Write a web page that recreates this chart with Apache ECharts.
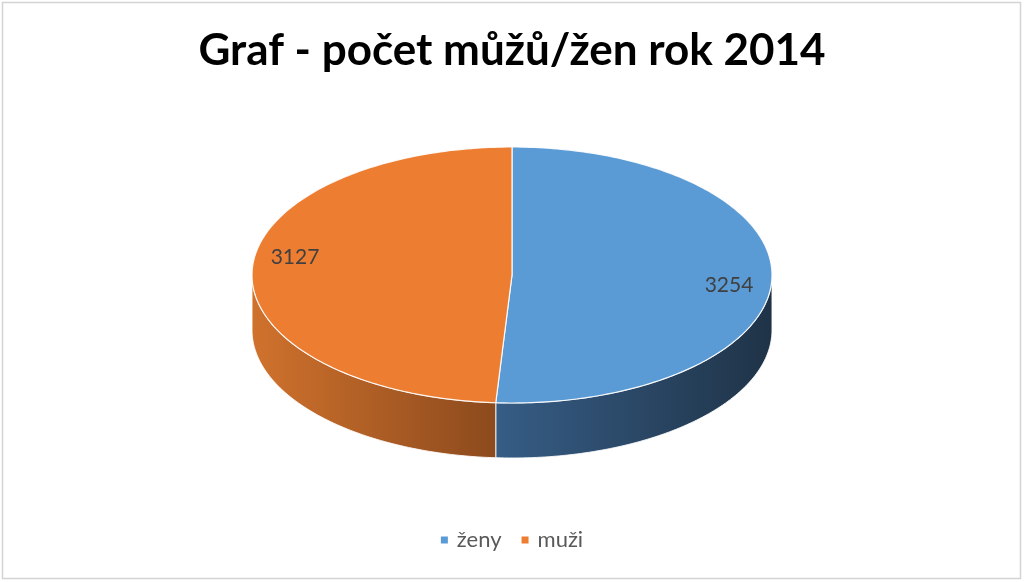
<!DOCTYPE html>
<html>
<head>
<meta charset="utf-8">
<script src="https://cdn.jsdelivr.net/npm/echarts@6/dist/echarts.min.js"></script>
<style>
html,body{margin:0;padding:0;background:#fff;}
#chart{width:1024px;height:582px;}
</style>
</head>
<body>
<div id="chart"></div>
<script>
const titleText = 'Graf - počet můžů/žen rok 2014';
const categories = ['ženy', 'muži'];
const values = [3254, 3127];
const topColors = ['#5B9BD5', '#ED7D31'];
const sideStops = [['#365D86', '#1F3347'], ['#D0722D', '#8C4A1D']];

const total = values.reduce((a, b) => a + b, 0);
const geo = { cx: 512, cy: 275, rx: 260, ry: 128, depth: 55 };
const labelShift = [7, -14];

function pt(theta, dy) {
  return [geo.cx + geo.rx * Math.sin(theta), geo.cy - geo.ry * Math.cos(theta) + (dy || 0)];
}
function arc(a, b, dy) {
  const pts = [];
  const n = Math.max(2, Math.ceil(Math.abs(b - a) / (Math.PI / 180)));
  for (let k = 0; k <= n; k++) pts.push(pt(a + (b - a) * k / n, dy));
  return pts;
}

function renderItem(params, api) {
  const i = params.seriesIndex;
  const v = api.value(0);
  let before = 0;
  for (let j = 0; j < i; j++) before += values[j];
  const a = before / total * Math.PI * 2;
  const b = a + v / total * Math.PI * 2;
  const children = [];
  const wa = Math.max(a, Math.PI / 2), wb = Math.min(b, Math.PI * 1.5);
  if (wb > wa) {
    const top = arc(wa, wb, 0);
    const bottom = arc(wb, wa, geo.depth);
    children.push({
      type: 'polygon',
      shape: { points: top.concat(bottom) },
      style: {
        fill: new echarts.graphic.LinearGradient(0, 0, 1, 0, [
          { offset: 0, color: sideStops[i][0] },
          { offset: 1, color: sideStops[i][1] }
        ]),
        stroke: 'rgba(255,255,255,0.85)',
        lineWidth: 1
      }
    });
  }
  children.push({
    type: 'polygon',
    shape: { points: [[geo.cx, geo.cy]].concat(arc(a, b, 0)) },
    style: { fill: topColors[i], stroke: 'rgba(255,255,255,0.9)', lineWidth: 1.2 }
  });
  const mid = (a + b) / 2;
  const lp = [geo.cx + geo.rx * 0.835 * Math.sin(mid), geo.cy - geo.ry * 0.835 * Math.cos(mid) + labelShift[i]];
  children.push({
    type: 'text',
    x: lp[0], y: lp[1],
    style: {
      text: String(v),
      fill: '#404040',
      font: '21px Lato',
      align: 'center',
      verticalAlign: 'middle'
    }
  });
  return { type: 'group', children: children };
}

const chart = echarts.init(document.getElementById('chart'));
chart.setOption({
  animation: false,
  color: topColors,
  title: {
    text: titleText,
    left: 'center',
    top: 24,
    textStyle: { fontFamily: 'Lato', fontWeight: 'bold', fontSize: 44, color: '#000' }
  },
  legend: {
    data: categories,
    bottom: 26,
    icon: 'rect',
    itemWidth: 7,
    itemHeight: 7,
    itemGap: 20,
    textStyle: { fontFamily: 'Lato', fontSize: 22, color: '#595959', padding: [0, 0, 0, 4] }
  },
  graphic: [{
    type: 'rect',
    shape: { x: 2.5, y: 2.5, width: 1018, height: 576 },
    style: { fill: 'none', stroke: '#D4D4D4', lineWidth: 1.5 },
    silent: true
  }],
  series: categories.map((name, i) => ({
    type: 'custom',
    name: name,
    coordinateSystem: 'none',
    renderItem: renderItem,
    data: [values[i]]
  }))
});
</script>
</body>
</html>
